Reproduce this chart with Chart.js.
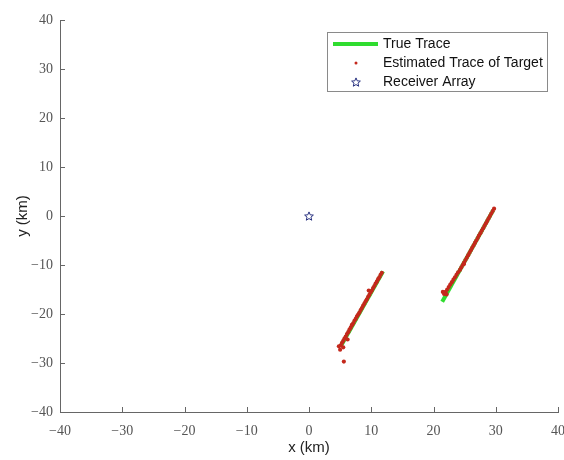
<!DOCTYPE html>
<html lang="en">
<head>
    <meta charset="UTF-8">
    <title>Target Trace</title>
    <style>
        body { margin: 0; background: #fff; }
    </style>
</head>
<body>
    <canvas id="trace" width="564" height="460"></canvas>
    <script src="https://cdn.jsdelivr.net/npm/chart.js"></script>
    <script>
        // true trace: two straight legs (km)
        const trueLegA = [{x: 5.1, y: -26.6}, {x: 11.9, y: -11.3}];
        const trueLegB = [{x: 21.4, y: -17.5}, {x: 29.6, y: 1.2}];

        // estimated positions of the target (km)
        const estX = [
            5.1, 5.3, 5.5, 5.7, 5.9, 6.1, 6.3, 6.5, 6.7, 6.9, 7.1, 7.3, 7.5, 7.7, 7.9, 8.1, 8.3,
            8.5, 8.7, 8.9, 9.1, 9.3, 9.5, 9.7, 9.9, 10.1, 10.3, 10.5, 10.7, 10.9, 11.1, 11.3, 11.5, 11.7,
            5.0, 5.5, 4.8, 5.6, 9.6, 6.2, 6.9,
            29.73, 29.51, 29.29, 29.07, 28.85, 28.64, 28.42, 28.20, 27.98, 27.76, 27.54, 27.31, 27.10,
            26.88, 26.66, 26.44, 26.22, 26.00, 25.79, 25.57, 25.35, 25.13, 24.91, 24.69, 24.47, 24.25,
            23.95, 23.70, 23.45, 23.20, 22.95, 22.70, 22.45, 22.20, 21.95, 21.80,
            21.5, 21.7, 22.1, 24.9
        ];
        const estY = [
            -26.4, -25.9, -25.5, -25.0, -24.6, -24.1, -23.7, -23.2, -22.8, -22.3, -21.9, -21.4, -21.0, -20.5, -20.1, -19.7, -19.2,
            -18.8, -18.3, -17.9, -17.4, -17.0, -16.5, -16.1, -15.6, -15.2, -14.7, -14.3, -13.8, -13.4, -12.9, -12.5, -12.0, -11.6,
            -27.3, -26.8, -26.6, -29.7, -15.2, -25.2, -22.2,
            1.5, 1.0, 0.5, 0.0, -0.5, -1.0, -1.5, -2.0, -2.5, -3.0, -3.5, -4.0, -4.5,
            -5.0, -5.5, -6.0, -6.5, -7.0, -7.5, -8.0, -8.5, -9.0, -9.5, -10.0, -10.5, -11.0,
            -11.5, -12.0, -12.5, -13.0, -13.5, -14.0, -14.5, -15.0, -15.5, -15.8,
            -15.5, -15.9, -16.0, -9.8
        ];

        const receiver = [{x: 0, y: 0}];

        const axisTicks = [-40, -30, -20, -10, 0, 10, 20, 30, 40];

        const green = '#2fdc2f';
        const red = '#c4281c';
        const navy = '#27307f';

        // five-pointed outline star used for the receiver marker
        function makeStar(r) {
            const c = document.createElement('canvas');
            const s = Math.ceil(r * 2 + 4);
            c.width = s; c.height = s;
            const g = c.getContext('2d');
            g.translate(s / 2, s / 2 + 0.5);
            g.beginPath();
            for (let i = 0; i < 10; i++) {
                const rad = i % 2 === 0 ? r : r * 0.45;
                const a = -Math.PI / 2 + i * Math.PI / 5;
                g.lineTo(rad * Math.cos(a), rad * Math.sin(a));
            }
            g.closePath();
            g.strokeStyle = navy;
            g.lineWidth = 1;
            g.stroke();
            return c;
        }
        const star = makeStar(4.6);

        // inward tick marks on both axes
        const innerTicks = {
            id: 'innerTicks',
            afterDraw(chart) {
                const {ctx, chartArea, scales} = chart;
                ctx.save();
                ctx.strokeStyle = '#666';
                ctx.lineWidth = 1;
                ctx.beginPath();
                scales.x.ticks.forEach((t, i) => {
                    const px = Math.round(scales.x.getPixelForTick(i)) + 0.5;
                    ctx.moveTo(px, chartArea.bottom);
                    ctx.lineTo(px, chartArea.bottom - 5);
                });
                scales.y.ticks.forEach((t, i) => {
                    const py = Math.round(scales.y.getPixelForTick(i)) + 0.5;
                    ctx.moveTo(chartArea.left, py);
                    ctx.lineTo(chartArea.left + 5, py);
                });
                ctx.stroke();
                ctx.restore();
            }
        };

        // boxed legend in the upper right of the plot
        const boxLegend = {
            id: 'boxLegend',
            afterDraw(chart) {
                const ctx = chart.ctx;
                ctx.save();
                ctx.fillStyle = '#fff';
                ctx.fillRect(327.5, 32.5, 220, 59);
                ctx.strokeStyle = '#8a8a8a';
                ctx.lineWidth = 1;
                ctx.strokeRect(327.5, 32.5, 220, 59);

                ctx.strokeStyle = green;
                ctx.lineWidth = 4;
                ctx.beginPath();
                ctx.moveTo(333, 44);
                ctx.lineTo(378, 44);
                ctx.stroke();

                ctx.fillStyle = red;
                ctx.beginPath();
                ctx.arc(356, 63, 1.5, 0, Math.PI * 2);
                ctx.fill();

                ctx.drawImage(star, 356 - star.width / 2, 82 - star.height / 2);

                ctx.fillStyle = '#111';
                ctx.font = '14px "Liberation Sans", Arial, sans-serif';
                ctx.textBaseline = 'middle';
                ctx.fillText('True Trace', 383, 44);
                ctx.fillText('Estimated Trace of Target', 383, 63);
                ctx.fillText('Receiver Array', 383, 82);
                ctx.restore();
            }
        };

        const tickFont = {family: '"Liberation Serif", "Times New Roman", serif', size: 14};
        const titleFont = {family: '"Liberation Sans", Arial, sans-serif', size: 15};

        new Chart(document.getElementById('trace'), {
            type: 'scatter',
            data: {
                datasets: [
                    {
                        label: 'Estimated Trace of Target',
                        data: estX.map((x, i) => ({x: x, y: estY[i]})),
                        backgroundColor: red,
                        borderColor: red,
                        pointRadius: 2.1,
                        pointBorderWidth: 0
                    },
                    {
                        label: 'True Trace',
                        type: 'line',
                        data: trueLegA,
                        borderColor: green,
                        borderWidth: 4,
                        pointRadius: 0
                    },
                    {
                        label: 'True Trace',
                        type: 'line',
                        data: trueLegB,
                        borderColor: green,
                        borderWidth: 4,
                        pointRadius: 0
                    },
                    {
                        label: 'Receiver Array',
                        data: receiver,
                        pointStyle: star,
                        pointRadius: 5
                    }
                ]
            },
            options: {
                responsive: false,
                animation: false,
                layout: {padding: {top: 20, right: 6, left: 0, bottom: 0}},
                plugins: {legend: {display: false}, tooltip: {enabled: false}},
                scales: {
                    x: {
                        type: 'linear',
                        min: -40,
                        max: 40,
                        afterBuildTicks: s => { s.ticks = axisTicks.map(v => ({value: v})); },
                        afterFit: s => { s.height = 48; s.paddingLeft = 0; s.paddingRight = 0; },
                        grid: {display: false, drawTicks: false},
                        border: {display: true, color: '#666', width: 1},
                        ticks: {
                            color: '#555',
                            font: tickFont,
                            padding: 11,
                            maxRotation: 0,
                            callback: v => v < 0 ? '\u2212' + Math.abs(v) : String(v)
                        },
                        title: {display: true, text: 'x (km)', color: '#222', font: titleFont, padding: {top: 0, bottom: 3}}
                    },
                    y: {
                        type: 'linear',
                        min: -40,
                        max: 40,
                        afterBuildTicks: s => { s.ticks = axisTicks.map(v => ({value: v})); },
                        afterFit: s => { s.width = 60; s.paddingTop = 0; s.paddingBottom = 0; },
                        grid: {display: false, drawTicks: false},
                        border: {display: true, color: '#666', width: 1},
                        ticks: {
                            color: '#555',
                            font: tickFont,
                            padding: 7,
                            callback: v => v < 0 ? '\u2212' + Math.abs(v) : String(v)
                        },
                        title: {display: true, text: 'y (km)', color: '#222', font: titleFont, padding: {top: 14, bottom: 4}}
                    }
                }
            },
            plugins: [innerTicks, boxLegend]
        });
    </script>
</body>
</html>
